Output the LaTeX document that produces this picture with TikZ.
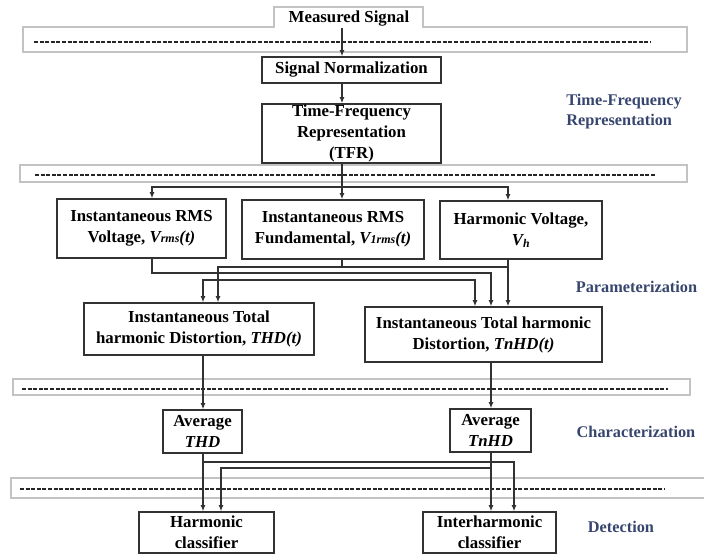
\documentclass[tikz,border=0pt]{standalone}
\usepackage{fontspec}
\setmainfont{Liberation Serif}
\usetikzlibrary{positioning}
\usetikzlibrary{arrows.meta}
\definecolor{boxgray}{RGB}{50,50,50}
\definecolor{bandgray}{RGB}{195,195,195}
\definecolor{stageblue}{RGB}{55,70,110}
\newcommand{\boxfont}{\fontsize{16.8}{21}\selectfont}
\newcommand{\stagefont}{\fontsize{16.3}{20}\selectfont}
\newcommand{\smallit}[1]{{\fontsize{12}{12}\selectfont #1}}
\tikzset{
    mybox/.style = {rectangle, draw=boxgray, line width=1.6pt, align=center, inner sep=1pt, font=\bfseries\boxfont, text=black},
    mytext/.style = {align=center, inner sep=1pt, font=\bfseries\boxfont, text=black},
    stage/.style = {align=left, inner sep=0pt, font=\bfseries\stagefont, text=stageblue},
    band/.style = {draw=bandgray, line width=1.2pt},
    dashrow/.style = {black!85, line width=2.6pt, dash pattern=on 4pt off 1.6pt},
    edgen/.style = {-, line width=1.1pt, boxgray},
    edgea/.style = {-{Latex[length=6pt,width=5pt]}, line width=1.1pt, boxgray}
}

\begin{document}
\begin{tikzpicture}[x=1pt,y=-1pt]
\useasboundingbox (0,0) rectangle (704,555);
% stage bands
\draw[band] (23,27) -- (274,27) -- (274,7) -- (423,7) -- (423,27) -- (687,27) -- (687,52) -- (23,52) -- cycle;
\draw[dashrow] (34,42) -- (651,42);
\draw[band] (20,165) rectangle (687,182);
\draw[dashrow] (35,175) -- (655,175);
\draw[band] (13,379) rectangle (690,395);
\draw[dashrow] (22,389) -- (668,389);
\draw[band] (11,478) rectangle (708,498);
\draw[dashrow] (20,489) -- (665,489);
%
\node[mytext] at (349,19) (ms) {Measured Signal};
\node[mybox, minimum width=179pt, minimum height=26pt] at (351.5,70) (sn) {Signal Normalization};
\node[mybox, minimum width=179pt, minimum height=59pt] at (351.5,133.5) (tfr) {Time-Frequency\\Representation\\(TFR)};
\node[mybox, minimum width=169pt, minimum height=59pt] at (141.5,228.5) (vrms) {Instantaneous RMS\\Voltage, \textit{V\smallit{rms}(t)}};
\node[mybox, minimum width=182pt, minimum height=59pt] at (333,229.5) (vf) {Instantaneous RMS\\Fundamental, \textit{V\smallit{1rms}(t)}};
\node[mybox, minimum width=162pt, minimum height=58pt] at (521,230) (vh) {Harmonic Voltage,\\\textit{V\textsubscript{h}}};
\node[mybox, minimum width=230pt, minimum height=52pt] at (199,329) (thd) {Instantaneous Total\\harmonic Distortion, \textit{THD(t)}};
\node[mybox, minimum width=237pt, minimum height=55pt] at (483.5,334.5) (tnhd) {Instantaneous Total harmonic\\Distortion, \textit{TnHD(t)}};
\node[mybox, minimum width=79pt, minimum height=43pt] at (202.5,431.5) (avthd) {Average\\\textit{THD}};
\node[mybox, minimum width=81pt, minimum height=43pt] at (490.5,430.5) (avtnhd) {Average\\\textit{TnHD}};
\node[mybox, minimum width=135pt, minimum height=41pt] at (206.5,532.5) (hc) {Harmonic\\classifier};
\node[mybox, minimum width=133pt, minimum height=41pt] at (489.5,532.5) (ic) {Interharmonic\\classifier};
%
\node[stage] at (624,112) (st1) {Time-Frequency\\Representation};
\node[stage] at (636.5,287) (st2) {Parameterization};
\node[stage] at (636,432) (st3) {Characterization};
\node[stage] at (621,527) (st4) {Detection};
%
\coordinate (lane) at (342,0);
\coordinate (la) at (152,0);
\coordinate (lc) at (508,0);
\coordinate (ld) at (218,0);
\coordinate (le) at (491,0);
\coordinate (lf) at (203,0);
\coordinate (lg) at (475,0);
\coordinate (lh) at (514,0);
\coordinate (li) at (221,0);
\coordinate (fork) at (342,187);
\coordinate (r1) at (491,273);
\coordinate (r2) at (342,267);
\coordinate (r3) at (380,280);
\coordinate (r4) at (203,462);
\coordinate (r5) at (491,468);
%
\draw[edgea] (ms.south -| lane) -- (sn.north -| lane);
\draw[edgea] (sn.south -| lane) -- (tfr.north -| lane);
\draw[edgen] (tfr.south -| lane) -- (fork);
\draw[edgea] (fork) -| (vrms.north -| la);
\draw[edgea] (fork) -- (vf.north -| lane);
\draw[edgea] (fork) -| (vh.north -| lc);
%
\draw[edgea] (vrms.south -| la) |- (r1) -- (tnhd.north -| r1);
\draw[edgen] (vf.south -| lane) -- (r2);
\draw[edgea] (r2) -| (thd.north -| ld);
\draw[edgen] (r2) -- (r2 -| lc);
\draw[edgea] (vh.south -| lc) -- (tnhd.north -| lc);
\draw[edgea] (r3) -| (thd.north -| lf);
\draw[edgea] (r3) -| (tnhd.north -| lg);
%
\draw[edgea] (thd.south -| lf) -- (avthd.north -| lf);
\draw[edgea] (tnhd.south -| le) -- (avtnhd.north -| le);
\draw[edgea] (avthd.south -| lf) -- (hc.north -| lf);
\draw[edgea] (r4) -| (ic.north -| lh);
\draw[edgea] (avtnhd.south -| le) -- (ic.north -| le);
\draw[edgea] (r5) -| (hc.north -| li);

\end{tikzpicture}
\end{document}
